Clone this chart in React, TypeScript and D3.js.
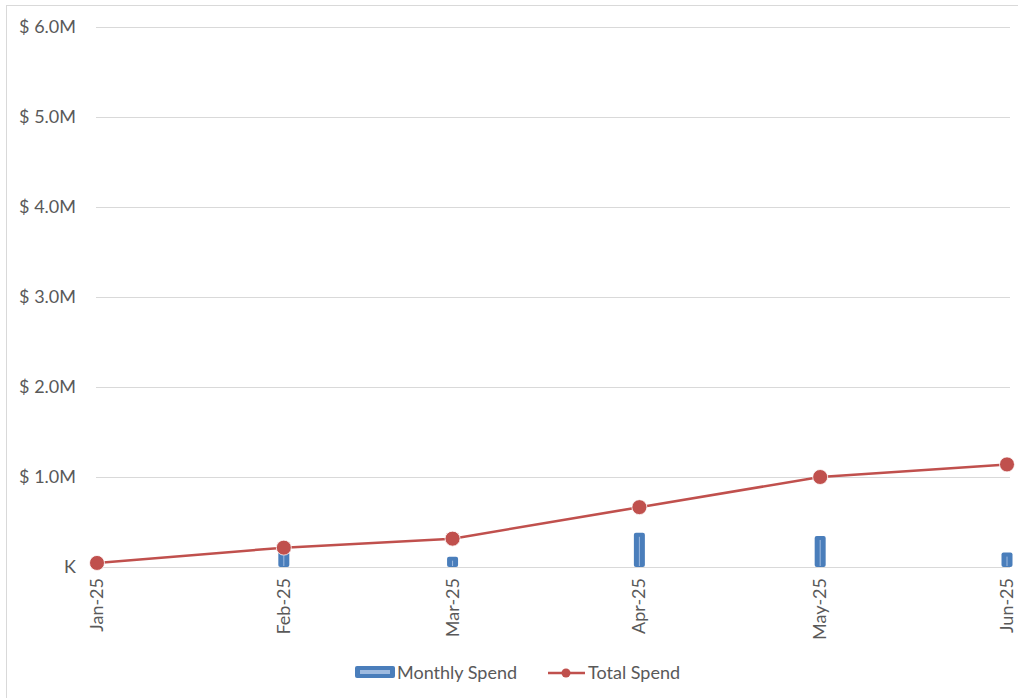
import React, { useRef, useEffect } from "react";
import * as d3 from "d3";

const months = ["2025-01-01", "2025-02-01", "2025-03-01", "2025-04-01", "2025-05-01", "2025-06-01"];
const monthLabels = ["Jan-25", "Feb-25", "Mar-25", "Apr-25", "May-25", "Jun-25"];
const monthlySpend = [45000, 170000, 115000, 380000, 345000, 160000];
const totalSpend = [45000, 215000, 315000, 665000, 1000000, 1140000];
const yTicks = [0, 1000000, 2000000, 3000000, 4000000, 5000000, 6000000];
const yTickLabels = ["K", "$ 1.0M", "$ 2.0M", "$ 3.0M", "$ 4.0M", "$ 5.0M", "$ 6.0M"];

const W = 1018;
const H = 698;
const FONT = "Lato, 'Open Sans', sans-serif";
const FS = 18;

const App = () => {
  const svgRef = useRef(null);

  useEffect(() => {
    const svg = d3.select(svgRef.current);
    svg.selectAll("*").remove();

    const dates = months.map(m => new Date(m + "T00:00:00Z"));

    // scales
    const x = d3.scaleUtc()
      .domain([dates[0], dates[dates.length - 1]])
      .range([97, 1007]);
    const y = d3.scaleLinear().domain([0, 6000000]).range([567, 27]);

    // outer chart border
    svg.append("rect")
      .attr("x", 6.5).attr("y", 5.5)
      .attr("width", W - 6).attr("height", H - 5)
      .attr("fill", "white").attr("stroke", "#d9d9d9");

    // gridlines + y labels
    svg.selectAll(".grid")
      .data(yTicks)
      .join("line")
      .attr("class", "grid")
      .attr("x1", 96).attr("x2", 1010)
      .attr("y1", d => Math.round(y(d)) + 0.5)
      .attr("y2", d => Math.round(y(d)) + 0.5)
      .attr("stroke", "#d9d9d9")
      .attr("stroke-width", 1);

    svg.selectAll(".ylab")
      .data(yTicks)
      .join("text")
      .attr("class", "ylab")
      .attr("x", 76)
      .attr("y", d => y(d) + 6)
      .attr("text-anchor", "end")
      .attr("font-family", FONT)
      .attr("font-size", FS)
      .attr("fill", "#595959")
      .text((d, i) => yTickLabels[i]);

    // x labels rotated
    svg.selectAll(".xlab")
      .data(dates)
      .join("text")
      .attr("class", "xlab")
      .attr("transform", d => `translate(${x(d) + 6},578) rotate(-90)`)
      .attr("text-anchor", "end")
      .attr("font-family", FONT)
      .attr("font-size", FS)
      .attr("fill", "#595959")
      .text((d, i) => monthLabels[i]);

    // bars
    const barW = 11;
    const bars = svg.append("g");
    bars.selectAll("rect")
      .data(monthlySpend)
      .join("rect")
      .attr("x", (d, i) => x(dates[i]) - barW / 2)
      .attr("y", d => y(d))
      .attr("width", barW)
      .attr("height", d => y(0) - y(d))
      .attr("rx", 2)
      .attr("fill", "#4a7ebb");
    bars.selectAll("line")
      .data(monthlySpend)
      .join("line")
      .attr("x1", (d, i) => x(dates[i]))
      .attr("x2", (d, i) => x(dates[i]))
      .attr("y1", d => y(d) + 4)
      .attr("y2", y(0) - 1)
      .attr("stroke", "#9fbbe0")
      .attr("stroke-width", 1);

    // line
    const line = d3.line()
      .x((d, i) => x(dates[i]))
      .y(d => y(d));
    svg.append("path")
      .datum(totalSpend)
      .attr("d", line)
      .attr("fill", "none")
      .attr("stroke", "#c0504d")
      .attr("stroke-width", 2.5);

    svg.selectAll(".dot")
      .data(totalSpend)
      .join("circle")
      .attr("class", "dot")
      .attr("cx", (d, i) => x(dates[i]))
      .attr("cy", d => y(d))
      .attr("r", 7.5)
      .attr("fill", "#c0504d")
      .attr("stroke", "#ffffff")
      .attr("stroke-width", 0.8);

    // legend
    const lg = svg.append("g");
    lg.append("rect")
      .attr("x", 355).attr("y", 666)
      .attr("width", 40).attr("height", 12)
      .attr("rx", 2)
      .attr("fill", "#4a7ebb");
    lg.append("rect")
      .attr("x", 360).attr("y", 670)
      .attr("width", 30).attr("height", 4)
      .attr("fill", "#9fbbe0");
    lg.append("text")
      .attr("x", 397).attr("y", 679)
      .attr("font-family", FONT)
      .attr("font-size", FS)
      .attr("fill", "#595959")
      .text("Monthly Spend");
    lg.append("line")
      .attr("x1", 548).attr("x2", 585)
      .attr("y1", 673).attr("y2", 673)
      .attr("stroke", "#c0504d")
      .attr("stroke-width", 2.5);
    lg.append("circle")
      .attr("cx", 566).attr("cy", 673).attr("r", 4.5)
      .attr("fill", "#c0504d");
    lg.append("text")
      .attr("x", 588).attr("y", 679)
      .attr("font-family", FONT)
      .attr("font-size", FS)
      .attr("fill", "#595959")
      .text("Total Spend");
  }, []);

  return (
    <div style={{ position: "absolute", left: 0, top: 0 }}>
      <svg ref={svgRef} width={W} height={H} style={{ display: "block" }} />
    </div>
  );
};

export default App;
